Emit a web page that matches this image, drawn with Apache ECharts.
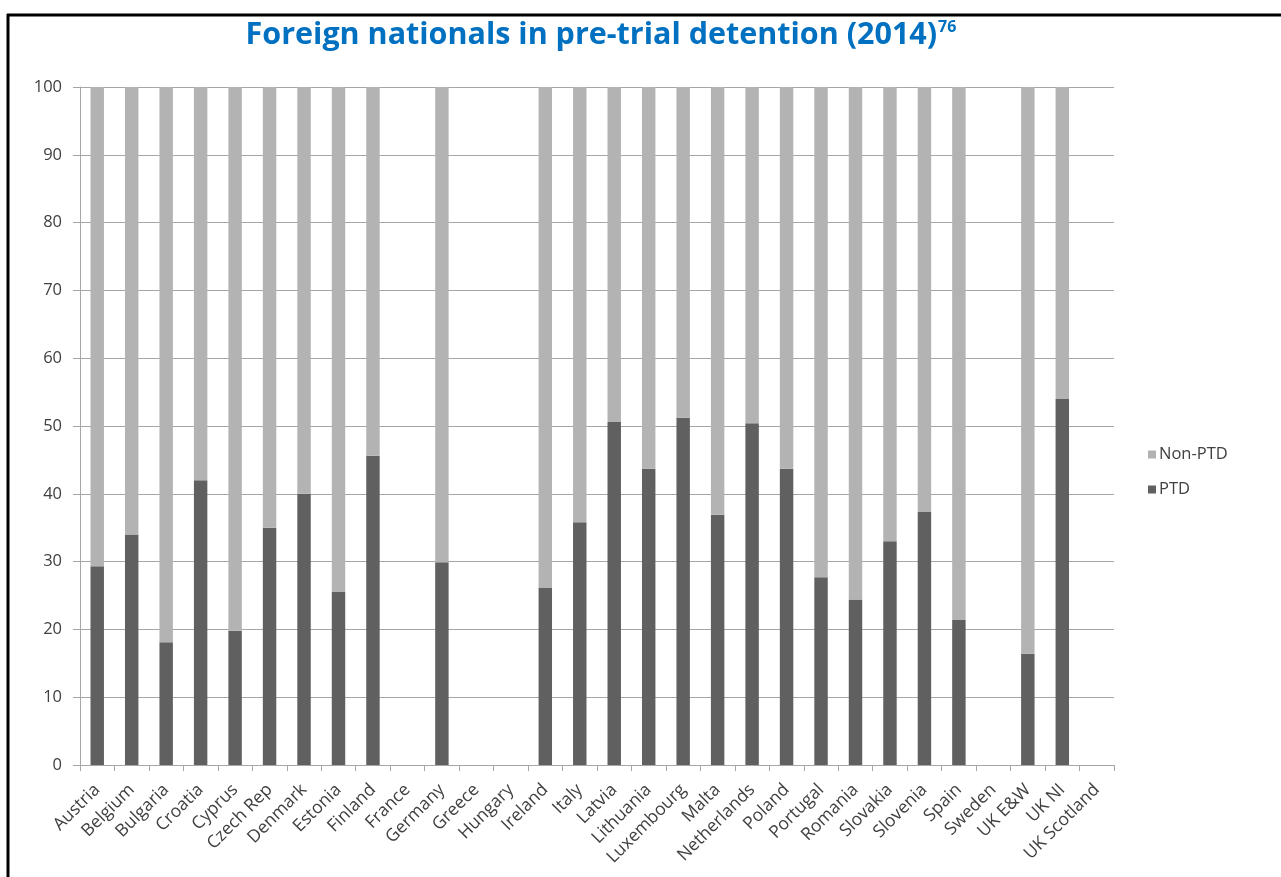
<!DOCTYPE html>
<html>
<head>
<meta charset="utf-8">
<script src="https://cdn.jsdelivr.net/npm/echarts@6/dist/echarts.min.js"></script>
<style>
  html, body { margin: 0; padding: 0; background: #ffffff; }
  #chart { width: 1281px; height: 877px; }
</style>
</head>
<body>
<div id="chart"></div>
<script>
// Countries along the category axis
const countries = [
  'Austria', 'Belgium', 'Bulgaria', 'Croatia', 'Cyprus', 'Czech Rep', 'Denmark',
  'Estonia', 'Finland', 'France', 'Germany', 'Greece', 'Hungary', 'Ireland', 'Italy',
  'Latvia', 'Lithuania', 'Luxembourg', 'Malta', 'Netherlands', 'Poland', 'Portugal',
  'Romania', 'Slovakia', 'Slovenia', 'Spain', 'Sweden', 'UK E&W', 'UK NI', 'UK Scotland'
];

// Share (%) of foreign nationals in pre-trial detention; null = no data
const ptd = [
  29.3, 34.0, 18.1, 42.0, 19.8, 35.0, 40.0,
  25.6, 45.6, null, 29.9, null, null, 26.1, 35.8,
  50.6, 43.7, 51.2, 36.9, 50.4, 43.7, 27.7,
  24.4, 33.0, 37.3, 21.4, null, 16.4, 54.0, null
];

// Remaining share not in pre-trial detention
const nonPtd = [
  70.7, 66.0, 81.9, 58.0, 80.2, 65.0, 60.0,
  74.4, 54.4, null, 70.1, null, null, 73.9, 64.2,
  49.4, 56.3, 48.8, 63.1, 49.6, 56.3, 72.3,
  75.6, 67.0, 62.7, 78.6, null, 83.6, 46.0, null
];

const yTicks = { min: 0, max: 100, interval: 10 };

const titleText = 'Foreign nationals in pre-trial detention (2014)';
const titleNote = '76';

const FONT = '"Open Sans", "DejaVu Sans", sans-serif';
const TEXT = '#404040';
const GRID = '#a6a6a6';

const chart = echarts.init(document.getElementById('chart'), null, { renderer: 'canvas' });

chart.setOption({
  backgroundColor: '#ffffff',
  animation: false,
  title: {
    text: '{t|' + titleText + '}{s|' + titleNote + '}',
    left: 596,
    top: 6,
    textAlign: 'center',
    textStyle: {
      rich: {
        t: { fontFamily: FONT, fontWeight: 'bold', fontSize: 30.5, color: '#0070c0', lineHeight: 40, verticalAlign: 'bottom' },
        s: { fontFamily: FONT, fontWeight: 'bold', fontSize: 16, color: '#0070c0', lineHeight: 40, verticalAlign: 'top', padding: [8, 0, 0, 1] }
      }
    }
  },
  legend: {
    orient: 'vertical',
    left: 1143,
    top: 441,
    itemWidth: 8,
    itemHeight: 8,
    itemGap: 18,
    icon: 'rect',
    data: ['Non-PTD', 'PTD'],
    textStyle: { fontFamily: FONT, fontSize: 16.5, color: TEXT, padding: [0, 0, 0, -2] }
  },
  grid: { left: 80, right: 167, top: 87, bottom: 112, containLabel: false },
  xAxis: {
    type: 'category',
    data: countries,
    axisLine: { show: true, lineStyle: { color: GRID, width: 1 } },
    axisTick: { show: true, interval: 0, length: 6, lineStyle: { color: GRID } },
    axisLabel: {
      interval: 0,
      rotate: 45,
      margin: 22,
      fontFamily: FONT,
      fontSize: 17.5,
      color: TEXT
    },
    splitLine: { show: false }
  },
  yAxis: {
    type: 'value',
    min: yTicks.min,
    max: yTicks.max,
    interval: yTicks.interval,
    axisLine: { show: true, lineStyle: { color: GRID, width: 1 } },
    axisTick: { show: true, length: 7, lineStyle: { color: GRID } },
    axisLabel: { fontFamily: FONT, fontSize: 16.5, color: TEXT, margin: 18 },
    splitLine: { show: true, lineStyle: { color: GRID, width: 1 } }
  },
  series: [
    {
      name: 'PTD',
      type: 'bar',
      stack: 'share',
      data: ptd,
      barCategoryGap: '61%',
      itemStyle: { color: '#606060' }
    },
    {
      name: 'Non-PTD',
      type: 'bar',
      stack: 'share',
      data: nonPtd,
      barCategoryGap: '61%',
      itemStyle: { color: '#b3b3b3' }
    }
  ],
  graphic: [
    // frame lines at the top and left edges
    { type: 'line', shape: { x1: 7, y1: 15, x2: 1281, y2: 15 }, style: { stroke: '#000000', lineWidth: 3 } },
    { type: 'line', shape: { x1: 8, y1: 14, x2: 8, y2: 877 }, style: { stroke: '#000000', lineWidth: 3 } }
  ]
});
</script>
</body>
</html>
